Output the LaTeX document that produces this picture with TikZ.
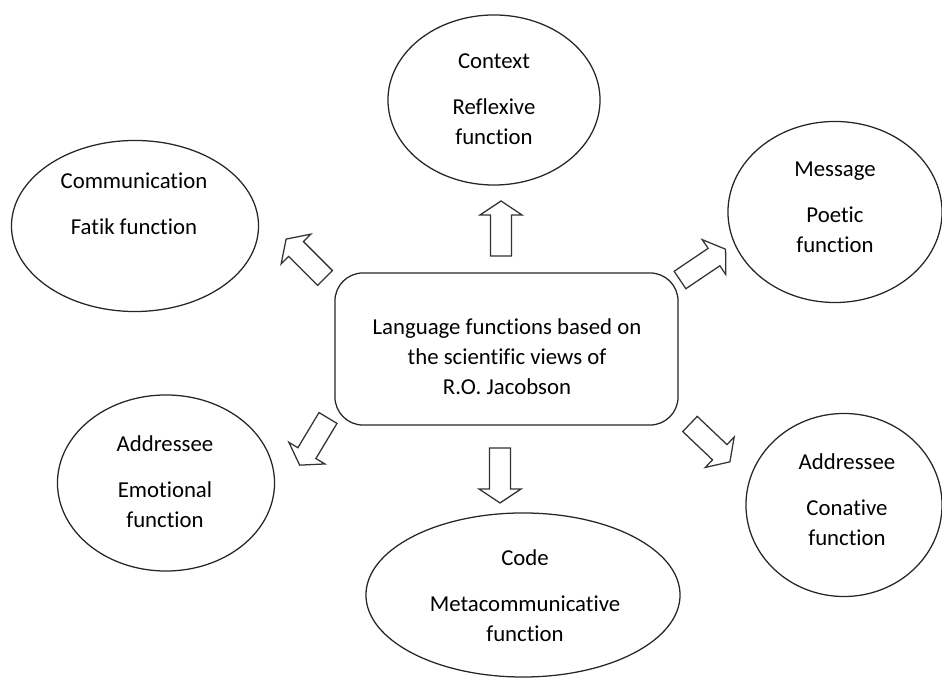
\documentclass[tikz,border=0pt]{standalone}
\usepackage{fontspec}
\setmainfont{Carlito}[Ligatures=NoCommon]
\usetikzlibrary{shapes.geometric}
\begin{document}
\begin{tikzpicture}[x=0.025cm,y=0.025cm,line width=0.9pt]
			\tikzset{oval/.style={draw=black!85,ellipse,inner sep=0pt},
				label text/.style={align=center,font=\fontsize{16.2}{21.3}\selectfont},
				pics/blockarrow/.style={code={
					\draw[black!80,line join=miter] (0,-10.5)--(41,-10.5)--(41,-21)--(55,0)--(41,21)--(41,10.5)--(0,10.5)--cycle;}}}
			\def\gap{11.4pt}
			\useasboundingbox (0,0) rectangle (942,682);
			% centre box
			\node[draw=black!85,rounded corners=0.7cm,minimum width=8.575cm,minimum height=3.8cm] (jac) at (506.5,333) {};
			\node[label text] (jac-txt) at (507,325) {Language functions based on\\the scientific views of\\R.O. Jacobson};
			% the six functions
			\node[oval,minimum width=5.3cm,minimum height=4.25cm] (ctx) at (494,582) {};
			\node[label text] (ctx-txt) at (494,582.5) {Context\\[\gap]Reflexive\\function};
			\node[oval,minimum width=6.175cm,minimum height=4.275cm] (comm) at (135,456) {};
			\node[label text] (comm-txt) at (134,478.5) {Communication\\[\gap]Fatik function};
			\node[oval,minimum width=5.35cm,minimum height=4.525cm] (msg) at (835,470) {};
			\node[label text] (msg-txt) at (835,474.5) {Message\\[\gap]Poetic\\function};
			\node[oval,minimum width=5.425cm,minimum height=4.4cm] (emo) at (166,199) {};
			\node[label text] (emo-txt) at (165,200) {Addressee\\[\gap]Emotional\\function};
			\node[oval,minimum width=7.85cm,minimum height=4.1cm] (code) at (523,87) {};
			\node[label text] (code-txt) at (525,86) {Code\\[\gap]Metacommunicative\\function};
			\node[oval,minimum width=4.9cm,minimum height=4.575cm] (con) at (844,177) {};
			\node[label text] (con-txt) at (847,182) {Addressee\\[\gap]Conative\\function};
			% block arrows
			\pic[rotate=90] at (501,426) {blockarrow};
			\pic[rotate=135] at (325,404) {blockarrow};
			\pic[rotate=34] at (680,402) {blockarrow};
			\pic[rotate=-121] at (328,264) {blockarrow};
			\pic[rotate=-90] at (500,234) {blockarrow};
			\pic[rotate=-43.5] at (690,258) {blockarrow};
		\end{tikzpicture}
\end{document}
